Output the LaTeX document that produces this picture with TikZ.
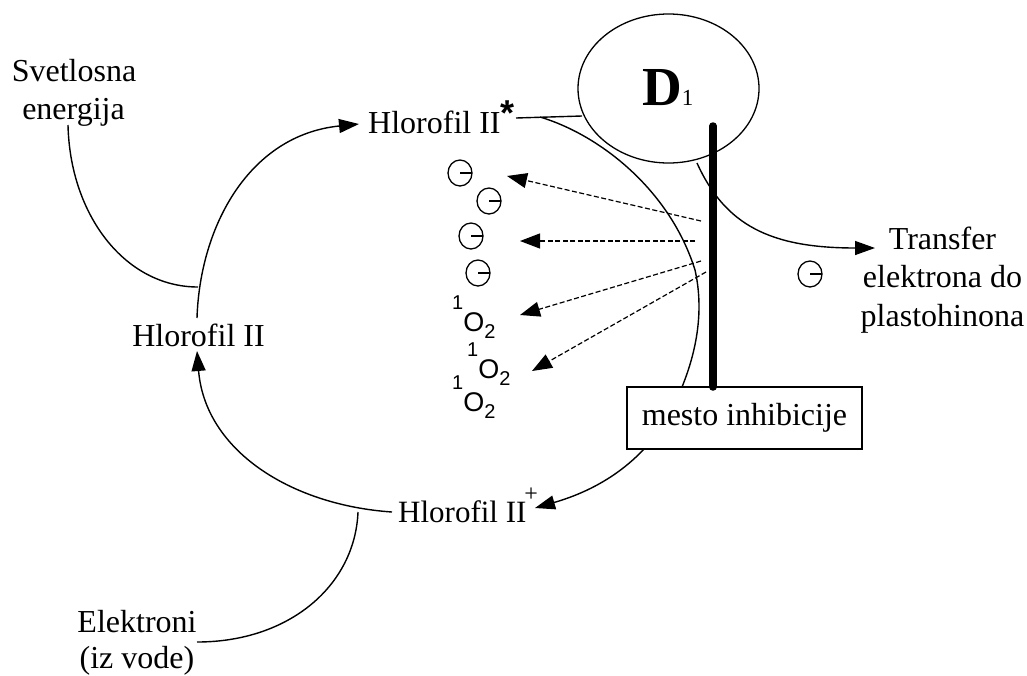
\documentclass[tikz,border=0pt]{standalone}
\usepackage{fontspec}
\setmainfont{Liberation Serif}
\newfontfamily\arialf{Liberation Sans}
\usetikzlibrary{arrows.meta,shapes.geometric}
\newcommand{\oxy}{{\arialf\fontsize{27}{27}\selectfont\raisebox{22pt}{\fontsize{20}{20}\selectfont 1}O\raisebox{-7pt}{\fontsize{20}{20}\selectfont 2}}}
\tikzset{
  lab/.style={inner sep=0pt,font=\fontsize{32}{38.5}\selectfont,align=center},
  line/.style={line width=1.4pt,black},
  arr/.style={line,-{Triangle[length=20pt,width=14pt]}},
  dash arr/.style={line width=1.2pt,dash pattern=on 5pt off 2.5pt,-{Triangle[length=20pt,width=15pt,sep=0pt]}},
  elec/.style={draw,ellipse,line width=1.3pt,minimum width=24pt,minimum height=26pt,inner sep=0pt,
    path picture={\draw[line width=2.7pt] (path picture bounding box.center) -- (path picture bounding box.east);}},
  oxn/.style={inner sep=0pt,anchor=base west},
}
\begin{document}
\begin{tikzpicture}[x=1pt,y=-1pt]
\useasboundingbox (0,0) rectangle (1027,675);
% nodes
\node[draw,line width=1.3pt,ellipse,minimum width=181pt,minimum height=149pt,inner sep=0pt] (d1) at (668.5,88.5) {};
\node[inner sep=0pt,anchor=base west] (d1t) at (642,105) {\fontsize{55}{55}\selectfont\textbf{D}\fontsize{23}{23}\selectfont 1};
\node[lab,anchor=base west] (hs) at (368,133) {Hlorofil II\raisebox{8pt}{\arialf\bfseries\fontsize{36}{36}\selectfont *}};
\node[lab,anchor=base] (h) at (198.5,346) {Hlorofil II};
\node[lab,anchor=base west,font=\fontsize{31}{38}\selectfont] (hp) at (398,522) {Hlorofil II\hspace{-2pt}\raisebox{21pt}{\fontsize{24}{24}\selectfont +}};
\node[lab,anchor=base] (sv) at (74,81) {Svetlosna};
\node[lab,anchor=base] (en) at (73.5,119) {energija};
\node[lab,anchor=base] (el) at (137,632) {Elektroni};
\node[lab,anchor=base] (iz) at (137,668) {(iz vode)};
\node[lab,anchor=base] (tr) at (942.5,249) {Transfer};
\node[lab,anchor=base] (ek) at (942.5,287) {elektrona do};
\node[lab,anchor=base] (pl) at (942.5,326) {plastohinona};
\node[draw,fill=white,line width=1.3pt,minimum width=235pt,minimum height=62pt,inner sep=0pt,font=\fontsize{32}{32}\selectfont] (box) at (744.5,418) {mesto inhibicije};
\node[elec] (e1) at (460,173) {};
\node[elec] (e2) at (489,201) {};
\node[elec] (e3) at (471,236) {};
\node[elec] (e4) at (478,273) {};
\node[elec] (e5) at (810,274) {};
\node[oxn] (o1) at (452,331) {\oxy};
\node[oxn] (o2) at (467,378) {\oxy};
\node[oxn] (o3) at (452,411) {\oxy};
% named ends
\coordinate (a0) at (197,318);
\coordinate (a1) at (359,124);
\coordinate (b0) at (392,512);
\coordinate (b1) at (197,351);
\coordinate (c0) at (644,449);
\coordinate (c1) at (535,508);
\coordinate (s0) at (516,118);
\coordinate (s1) at (582,116);
\coordinate (k0) at (540,117);
\coordinate (kk) at (695,270);
\coordinate (k1) at (682,387);
\coordinate (l0) at (68,125);
\coordinate (l1) at (198,287);
\coordinate (m0) at (358,512);
\coordinate (m1) at (197,642);
\coordinate (t0) at (697,163);
\coordinate (t1) at (875,248);
\coordinate (bar0) at (713,126);
\coordinate (bar1) at (713,387);
\coordinate (q1) at (701,221);
\coordinate (q2) at (695,241);
\coordinate (q3) at (701,261);
\coordinate (q4) at (706,272);
\coordinate (p1) at (507,176);
\coordinate (p2) at (520,241);
\coordinate (p3) at (520,315);
\coordinate (p4) at (532,371);
% connectors
\draw[arr] (a0) .. controls (200,225) and (250,135) .. (a1);
\draw[arr] (b0) .. controls (290,505) and (205,450) .. (b1);
\draw[arr] (c0) .. controls (615,480) and (580,495) .. (c1);
\draw[line] (s0) -- (s1);
\draw[line] (k0) .. controls (600,135) and (670,190) .. (kk) .. controls (704,310) and (697,350) .. (k1);
\draw[line] (l0) .. controls (70,215) and (125,287) .. (l1);
\draw[line] (m0) .. controls (355,585) and (290,642) .. (m1);
\draw[arr] (t0) .. controls (725,225) and (770,248) .. (t1);
\draw[line width=7.5pt,line cap=round] (bar0) -- (bar1);
\draw[dash arr] (q1) -- (p1);
\draw[dash arr] (q2) -- (p2);
\draw[dash arr] (q3) -- (p3);
\draw[dash arr] (q4) -- (p4);
\end{tikzpicture}
\end{document}
